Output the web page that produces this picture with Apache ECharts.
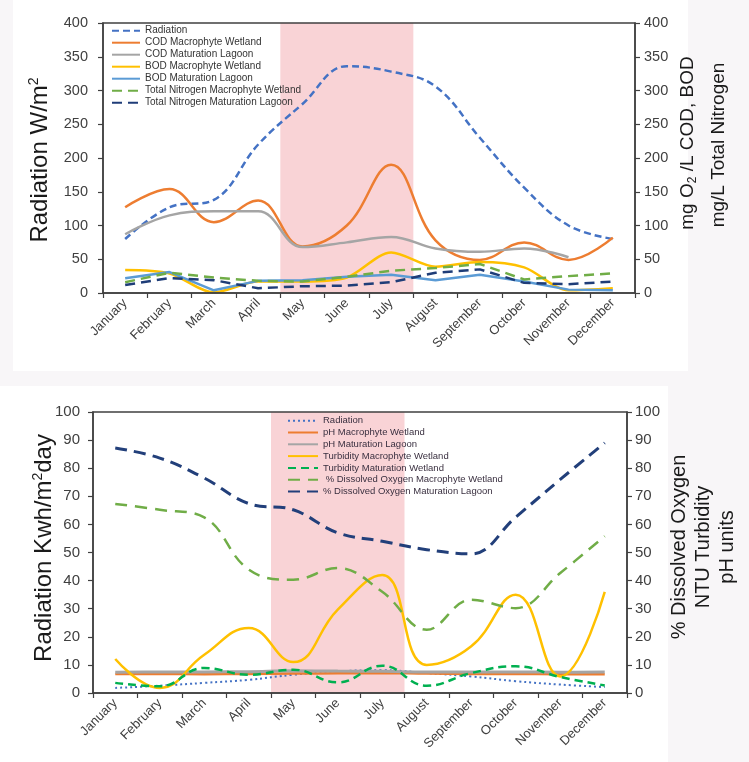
<!DOCTYPE html>
<html><head><meta charset="utf-8">
<script src="https://cdn.jsdelivr.net/npm/echarts@6/dist/echarts.min.js"></script>
<style>html,body{margin:0;padding:0;background:#f8f6f8;}#c{width:749px;height:762px;}</style>
</head><body><div id="c"></div>
<script>
// ---------- data ----------
const months = ['January','February','March','April','May','June','July','August','September','October','November','December'];
const growingSeason = [4, 7]; // month boundaries: start of May .. end of July

// top chart
const topRadiation   = [80, 127, 138, 220, 280, 336, 328, 306, 230, 156, 100, 80];
const codMacrophyte  = [127, 154, 105, 137, 69, 100, 190, 78, 49, 75, 49, 82];
const codLagoon      = [87, 115, 121, 121, 68, 75, 83, 66, 61, 66, 53, null];
const bodMacrophyte  = [34, 29, 1, 17, 17, 23, 60, 39, 46, 38, 4, 7];
const bodLagoon      = [22, 31, 4, 18, 19, 24, 27, 19, 27, 17, 5, 4];
const tnMacrophyte   = [16, 30, 23, 18, 17, 24, 33, 37, 43, 20, 25, 29];
const tnLagoon       = [12, 22, 19, 7, 10, 11, 16, 30, 35, 15, 13, 17];
const topTicks = {min: 0, max: 400, step: 50};

// bottom chart
const botRadiation   = [1.8, 2.6, 3.6, 4.7, 6.5, 7.7, 8.1, 7.1, 5.9, 4.2, 3.0, 2.1];
const phMacrophyte   = [6.8, 6.8, 6.7, 6.8, 6.9, 7.0, 7.1, 6.9, 6.8, 6.8, 6.7, 6.7];
const phLagoon       = [7.4, 7.5, 7.5, 7.6, 7.9, 7.8, 7.7, 7.5, 7.5, 7.5, 7.4, 7.5];
const turbMacrophyte = [12.1, 1.8, 13.6, 23.1, 11, 29.7, 42, 10, 16.6, 35, 5.9, 36];
const turbLagoon     = [3.6, 2.4, 8.9, 6.5, 8.3, 3.8, 9.7, 2.6, 7.1, 9.5, 5.7, 2.7];
const doMacrophyte   = [67.3, 65.2, 62.5, 43.9, 40.3, 44.5, 36, 22.5, 33.2, 30.2, 42.7, 55.8];
const doLagoon       = [87.2, 83.6, 76.5, 67.4, 65.2, 57, 54, 51, 49.5, 62.6, 76, 89];
const botTicks = {min: 0, max: 100, step: 10};

// ---------- styling ----------
const FONT = '"Liberation Sans", Arial, sans-serif';
const AX = '#404040';
const PINK = '#f9d3d6';

function line(name, data, color, width, dash, xi, yi, smooth) {
  return {
    type: 'line', name, data, xAxisIndex: xi, yAxisIndex: yi,
    symbol: 'none', smooth: smooth, z: 3,
    lineStyle: {color, width, type: dash || 'solid', cap: 'butt'},
    itemStyle: {color}
  };
}
function catAxis(grid) {
  return {
    type: 'category', gridIndex: grid, data: months, boundaryGap: true, z: 4,
    axisLine: {lineStyle: {color: AX, width: 1.5}},
    axisTick: {show: true, length: 5, lineStyle: {color: AX, width: 1.2}},
    axisLabel: {rotate: 45, interval: 0, fontSize: 13, color: AX, margin: 8, fontFamily: FONT}
  };
}
function valAxis(grid, pos, t, fs, margin) {
  return {
    type: 'value', gridIndex: grid, position: pos, min: t.min, max: t.max, interval: t.step, z: 4,
    axisLine: {show: true, lineStyle: {color: AX, width: 1.5}},
    axisTick: {show: true, length: 5, lineStyle: {color: AX, width: 1.2}},
    splitLine: {show: false},
    axisLabel: {fontSize: fs, color: AX, margin: margin, fontFamily: FONT}
  };
}
function bandSeries(xi, yi) {
  return {
    type: 'line', data: [], xAxisIndex: xi, yAxisIndex: yi, symbol: 'none', silent: true,
    markArea: {silent: true, itemStyle: {color: PINK}, data: [[{xAxis: growingSeason[0]}, {xAxis: growingSeason[1]}]]}
  };
}

const topNames = ['Radiation','COD Macrophyte Wetland','COD Maturation Lagoon','BOD Macrophyte Wetland','BOD Maturation Lagoon','Total Nitrogen Macrophyte Wetland','Total Nitrogen Maturation Lagoon'];
const botNames = ['Radiation ','pH Macrophyte Wetland','pH Maturation Lagoon','Turbidity Macrophyte Wetland','Turbidity Maturation Wetland',' % Dissolved Oxygen Macrophyte Wetland','% Dissolved Oxygen Maturation Lagoon'];

const option = {
  animation: false,
  backgroundColor: '#f8f6f8',
  graphic: [
    {type: 'rect', z: -10, silent: true, shape: {x: 13, y: 0, width: 675, height: 371}, style: {fill: '#ffffff'}},
    {type: 'rect', z: -10, silent: true, shape: {x: 0, y: 386, width: 668, height: 376}, style: {fill: '#ffffff'}},
    {type: 'text', x: 40, y: 160, rotation: Math.PI / 2, style: {
      text: 'Radiation W/m{sup|2}', fontSize: 24, fontFamily: FONT, fill: '#1a1a1a', align: 'center', verticalAlign: 'middle', lineHeight: 26,
      rich: {sup: {fontSize: 14, fontFamily: FONT, fill: '#1a1a1a', verticalAlign: 'top', lineHeight: 14}}}},
    {type: 'text', x: 688, y: 143, rotation: Math.PI / 2, style: {
      text: 'mg O{sub|2} /L COD, BOD', fontSize: 19, fontFamily: FONT, fill: '#1a1a1a', align: 'center', verticalAlign: 'middle', lineHeight: 22,
      rich: {sub: {fontSize: 12, fontFamily: FONT, fill: '#1a1a1a', verticalAlign: 'bottom', lineHeight: 12}}}},
    {type: 'text', x: 719, y: 145, rotation: Math.PI / 2, style: {
      text: 'mg/L Total Nitrogen', fontSize: 19, fontFamily: FONT, fill: '#1a1a1a', align: 'center', verticalAlign: 'middle'}},
    {type: 'text', x: 44, y: 548, rotation: Math.PI / 2, style: {
      text: 'Radiation Kwh/m{sup|2}day', fontSize: 24, fontFamily: FONT, fill: '#1a1a1a', align: 'center', verticalAlign: 'middle', lineHeight: 26,
      rich: {sup: {fontSize: 14, fontFamily: FONT, fill: '#1a1a1a', verticalAlign: 'top', lineHeight: 14}}}},
    {type: 'text', x: 703, y: 547, rotation: Math.PI / 2, style: {
      text: '% Dissolved Oxygen\nNTU Turbidity\npH units', fontSize: 20, fontFamily: FONT, fill: '#1a1a1a', align: 'center', verticalAlign: 'middle', lineHeight: 24}}
  ],
  grid: [
    {left: 103, top: 23, width: 532, height: 270, show: true, borderColor: AX, borderWidth: 1.5, z: 4},
    {left: 93, top: 412, width: 534, height: 281, show: true, borderColor: AX, borderWidth: 1.5, z: 4}
  ],
  xAxis: [
    catAxis(0),
    {type: 'value', gridIndex: 0, min: 0, max: months.length, show: false},
    catAxis(1),
    {type: 'value', gridIndex: 1, min: 0, max: months.length, show: false}
  ],
  yAxis: [
    valAxis(0, 'left', topTicks, 14.5, 15),
    valAxis(0, 'right', topTicks, 14.5, 9),
    valAxis(1, 'left', botTicks, 15, 13),
    valAxis(1, 'right', botTicks, 15, 8)
  ],
  legend: [
    {data: topNames, orient: 'vertical', left: 111, top: 24.7, padding: 0, itemWidth: 28, itemHeight: 10, itemGap: 0,
     itemStyle: {opacity: 0},
     textStyle: {fontSize: 10, fontFamily: FONT, color: '#333', lineHeight: 12}},
    {data: botNames, orient: 'vertical', left: 287, top: 414.8, padding: 0, itemWidth: 30, itemHeight: 10, itemGap: 0,
     itemStyle: {opacity: 0},
     textStyle: {fontSize: 9.5, fontFamily: FONT, color: '#3a3040', lineHeight: 11.8}}
  ],
  series: [
    bandSeries(1, 0),
    line(topNames[0], topRadiation, '#4472c4', 2.5, [7, 4], 0, 0, 0.4),
    line(topNames[1], codMacrophyte, '#ed7d31', 2.5, null, 0, 1, 0.4),
    line(topNames[2], codLagoon, '#a5a5a5', 2.5, null, 0, 1, 0.4),
    line(topNames[3], bodMacrophyte, '#ffc000', 2.5, null, 0, 1, 0.3),
    line(topNames[4], bodLagoon, '#5b9bd5', 2.5, null, 0, 1, false),
    line(topNames[5], tnMacrophyte, '#70ad47', 2.5, [10, 6], 0, 1, false),
    line(topNames[6], tnLagoon, '#1f3d78', 2.5, [10, 6], 0, 1, false),

    bandSeries(3, 2),
    line(botNames[0], botRadiation, '#4472c4', 2, [2, 3], 2, 2, 0.4),
    line(botNames[1], phMacrophyte, '#ed7d31', 2.5, null, 2, 3, 0.4),
    line(botNames[2], phLagoon, '#a5a5a5', 3, null, 2, 3, 0.4),
    line(botNames[3], turbMacrophyte, '#ffc000', 2.5, null, 2, 3, 0.45),
    line(botNames[4], turbLagoon, '#00b050', 2.5, [8, 5], 2, 3, 0.45),
    line(botNames[5], doMacrophyte, '#70ad47', 2.5, [12, 8], 2, 3, 0.4),
    line(botNames[6], doLagoon, '#223f7a', 3, [12, 7], 2, 3, 0.4)
  ]
};
const chart = echarts.init(document.getElementById('c'), null, {renderer: 'canvas'});
chart.setOption(option);
</script></body></html>
